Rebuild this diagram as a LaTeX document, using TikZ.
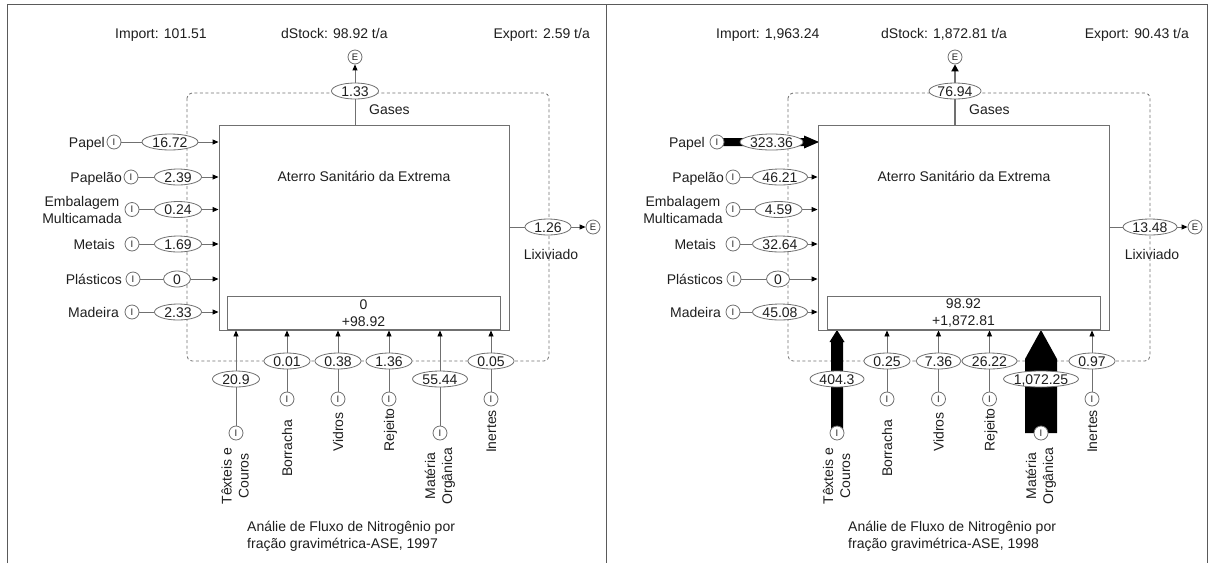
\documentclass[tikz,border=0pt]{standalone}
\usepackage{fontspec}
\setmainfont{Liberation Sans}
\usetikzlibrary{shapes.geometric,arrows.meta}
\definecolor{ln}{HTML}{707070}
\definecolor{tx}{HTML}{1E1E1E}
\definecolor{fr}{HTML}{5A5A5A}
\newcommand\tf{\fontsize{14}{17}\selectfont}
% \val{name}{position}{text}{ellipse width}
\newcommand\val[4]{\node[valnode,minimum width=#4pt] (#1) at (#2) {#3};}
\pgfdeclarelayer{bg}
\pgfsetlayers{bg,main}
\begin{document}
\begin{tikzpicture}[x=1pt,y=-1pt,font=\tf,text=tx,
 valnode/.style={ellipse,draw=ln,fill=white,line width=0.8pt,inner xsep=-8pt,inner ysep=0pt,minimum height=16pt,text height=10pt,text depth=0pt},
 io/.style={circle,draw=ln,fill=white,line width=0.8pt,minimum size=14pt,inner sep=0pt,font=\fontsize{9.5}{10}\selectfont},
 flow/.style={draw=ln,line width=0.9pt},
 arr/.style={flow,-{Triangle[length=6pt,width=5pt,color=black]}},
 bound/.style={draw=ln,line width=0.8pt,dash pattern=on 3pt off 2.5pt,rounded corners=5pt},
 procbox/.style={draw=ln,line width=0.9pt,inner sep=0pt},
 sl/.style={inner sep=0pt,text height=10pt,text depth=0pt},
 ml/.style={inner sep=0pt,align=center},
 big/.style={fill=black},
]
\useasboundingbox (0,0) rectangle (1210,563);
\draw[fr,line width=1pt] (7,563) -- (7,4) -- (1207,4) -- (1207,563);
\draw[fr,line width=1pt] (606,4) -- (606,563);

% ================= panel 1 =================
\begin{scope}
\node[sl,anchor=west] (imp1) at (115,33) {Import: 101.51};
\node[sl,anchor=west] (dst1) at (281,33) {dStock: 98.92 t/a};
\node[sl,anchor=east] (exp1) at (590,33) {Export: 2.59 t/a};
\begin{pgfonlayer}{bg}\draw[bound] (187,93) rectangle (549,361);\end{pgfonlayer}
\node[procbox,minimum width=290pt,minimum height=205pt] (proc1) at (364,227.5) {};
\node[sl] (ttl1) at (364,176) {Aterro Sanitário da Extrema};
\node[procbox,minimum width=273pt,minimum height=33pt,anchor=south] (stk1) at (363.5,330) {};
\node[ml] (stt1) at (363.5,313) {0\\+98.92};
% gases
\node[io] (eG1) at (355,57) {E};
\val{vG1}{355,91}{1.33}{47}
\node[sl,anchor=west] (gas1) at (369,109) {Gases};
\draw[flow] (proc1.north -| vG1) -- (vG1);
\draw[arr] (vG1) -- (eG1);
% left inputs
\node[io] (iPa1) at (114,142) {I};
\node[sl,anchor=east] (lPa1) at (105,142) {Papel};
\val{vPa1}{170,142}{16.72}{56}
\draw[flow] (iPa1) -- (vPa1);
\draw[arr] (vPa1) -- (vPa1 -| proc1.west);
\node[io] (iPp1) at (131,177) {I};
\node[sl,anchor=east] (lPp1) at (122,177) {Papelão};
\val{vPp1}{178,177}{2.39}{47}
\draw[flow] (iPp1) -- (vPp1);
\draw[arr] (vPp1) -- (vPp1 -| proc1.west);
\node[io] (iEm1) at (132,209.5) {I};
\node[ml] (lEm1) at (82,209.5) {Embalagem\\Multicamada};
\val{vEm1}{178,209.5}{0.24}{47}
\draw[flow] (iEm1) -- (vEm1);
\draw[arr] (vEm1) -- (vEm1 -| proc1.west);
\node[io] (iMe1) at (132,244) {I};
\node[sl,anchor=east] (lMe1) at (115,244) {Metais};
\val{vMe1}{178,244}{1.69}{47}
\draw[flow] (iMe1) -- (vMe1);
\draw[arr] (vMe1) -- (vMe1 -| proc1.west);
\node[io] (iPl1) at (133,279) {I};
\node[sl,anchor=east] (lPl1) at (122,279) {Plásticos};
\val{vPl1}{177,279}{0}{27}
\draw[flow] (iPl1) -- (vPl1);
\draw[arr] (vPl1) -- (vPl1 -| proc1.west);
\node[io] (iMa1) at (132,312) {I};
\node[sl,anchor=east] (lMa1) at (119,312) {Madeira};
\val{vMa1}{178,312}{2.33}{47}
\draw[flow] (iMa1) -- (vMa1);
\draw[arr] (vMa1) -- (vMa1 -| proc1.west);
% bottom inputs
\node[io] (iTe1) at (236,433) {I};
\val{vTe1}{236,379}{20.9}{47}
\node[ml,rotate=90] (lTe1) at (235,476) {Têxteis e\\Couros};
\draw[flow] (iTe1) -- (vTe1);
\draw[arr] (vTe1) -- (vTe1 |- proc1.south);
\node[io] (iBo1) at (287,399) {I};
\val{vBo1}{287,361}{0.01}{46}
\node[sl,rotate=90] (lBo1) at (287,448.5) {Borracha};
\draw[flow] (iBo1) -- (vBo1);
\draw[arr] (vBo1) -- (vBo1 |- proc1.south);
\node[io] (iVi1) at (338,399) {I};
\val{vVi1}{338,361}{0.38}{46}
\node[sl,rotate=90] (lVi1) at (338,432) {Vidros};
\draw[flow] (iVi1) -- (vVi1);
\draw[arr] (vVi1) -- (vVi1 |- proc1.south);
\node[io] (iRe1) at (389,399) {I};
\val{vRe1}{389,361}{1.36}{46}
\node[sl,rotate=90] (lRe1) at (389,430) {Rejeito};
\draw[flow] (iRe1) -- (vRe1);
\draw[arr] (vRe1) -- (vRe1 |- proc1.south);
\node[io] (iMo1) at (440,433) {I};
\val{vMo1}{440,379}{55.44}{55}
\node[ml,rotate=90] (lMo1) at (440,476) {Matéria\\Orgânica};
\draw[flow] (iMo1) -- (vMo1);
\draw[arr] (vMo1) -- (vMo1 |- proc1.south);
\node[io] (iIn1) at (491,399) {I};
\val{vIn1}{491,361}{0.05}{46}
\node[sl,rotate=90] (lIn1) at (491,431.5) {Inertes};
\draw[flow] (iIn1) -- (vIn1);
\draw[arr] (vIn1) -- (vIn1 |- proc1.south);
% lixiviado
\val{vLx1}{548,227}{1.26}{46}
\node[io] (eLx1) at (593,227) {E};
\node[sl] (lLx1) at (551,254) {Lixiviado};
\draw[flow] (vLx1 -| proc1.east) -- (vLx1);
\draw[arr] (vLx1) -- (eLx1);
% caption
\node[inner sep=0pt,align=left,anchor=west] (cap1) at (247,536) {Análie de Fluxo de Nitrogênio por\\fração gravimétrica-ASE, 1997};
\end{scope}

% ================= panel 2 =================
\begin{scope}[xshift=600pt]
\node[sl,anchor=west] (imp2) at (116,33) {Import: 1,963.24};
\node[sl,anchor=west] (dst2) at (281,33) {dStock: 1,872.81 t/a};
\node[sl,anchor=east] (exp2) at (589,33) {Export: 90.43 t/a};
\begin{pgfonlayer}{bg}\draw[bound] (188,93) rectangle (550,361);\end{pgfonlayer}
\node[procbox,minimum width=291pt,minimum height=205pt] (proc2) at (363.5,227.5) {};
\node[sl] (ttl2) at (364,176) {Aterro Sanitário da Extrema};
\node[procbox,minimum width=273pt,minimum height=33pt,anchor=south] (stk2) at (363.5,330) {};
\node[ml] (stt2) at (363.5,313) {98.92\\+1,872.81};
% gases
\node[io] (eG2) at (355,57) {E};
\val{vG2}{355,91}{76.94}{52}
\node[sl,anchor=west] (gas2) at (369,109) {Gases};
\draw[flow,line width=2pt] (proc2.north -| vG2) -- (vG2);
\draw[flow,line width=2pt,-{Triangle[length=7pt,width=7pt,color=black]}] (vG2) -- (eG2);
% left inputs
\node[io] (iPa2) at (117,142) {I};
\node[sl,anchor=east] (lPa2) at (105,142) {Papel};
\begin{pgfonlayer}{bg}
\fill[big] (117,138) -- (204,138) -- (204,135.5) -- (219,142) -- (204,148.5) -- (204,146) -- (117,146) -- cycle;
\end{pgfonlayer}
\val{vPa2}{171.5,142}{323.36}{63}
\node[io] (iPp2) at (133,177) {I};
\node[sl,anchor=east] (lPp2) at (124,177) {Papelão};
\val{vPp2}{180,177}{46.21}{55}
\draw[flow] (iPp2) -- (vPp2);
\draw[arr] (vPp2) -- (vPp2 -| proc2.west);
\node[io] (iEm2) at (133,209.5) {I};
\node[ml] (lEm2) at (83,209.5) {Embalagem\\Multicamada};
\val{vEm2}{178.5,209.5}{4.59}{47}
\draw[flow] (iEm2) -- (vEm2);
\draw[arr] (vEm2) -- (vEm2 -| proc2.west);
\node[io] (iMe2) at (133,244) {I};
\node[sl,anchor=east] (lMe2) at (116,244) {Metais};
\val{vMe2}{180,244}{32.64}{55}
\draw[flow] (iMe2) -- (vMe2);
\draw[arr] (vMe2) -- (vMe2 -| proc2.west);
\node[io] (iPl2) at (134,279) {I};
\node[sl,anchor=east] (lPl2) at (123,279) {Plásticos};
\val{vPl2}{178,279}{0}{23}
\draw[flow] (iPl2) -- (vPl2);
\draw[arr] (vPl2) -- (vPl2 -| proc2.west);
\node[io] (iMa2) at (133,312) {I};
\node[sl,anchor=east] (lMa2) at (121,312) {Madeira};
\val{vMa2}{180,312}{45.08}{55}
\draw[flow] (iMa2) -- (vMa2);
\draw[arr] (vMa2) -- (vMa2 -| proc2.west);
% bottom inputs
\begin{pgfonlayer}{bg}
\fill[big] (231,433) -- (231,342) -- (229.5,342) -- (237,330) -- (244.5,342) -- (243,342) -- (243,433) -- cycle;
\fill[big] (425,433) -- (425,359) -- (441,330) -- (457,359) -- (457,433) -- cycle;
\end{pgfonlayer}
\node[io] (iTe2) at (237,433) {I};
\val{vTe2}{237,379}{404.3}{54}
\node[ml,rotate=90] (lTe2) at (236.5,476) {Têxteis e\\Couros};
\node[io] (iBo2) at (287,399) {I};
\val{vBo2}{287,361}{0.25}{46}
\node[sl,rotate=90] (lBo2) at (287,448.5) {Borracha};
\draw[flow] (iBo2) -- (vBo2);
\draw[arr] (vBo2) -- (vBo2 |- proc2.south);
\node[io] (iVi2) at (338.5,399) {I};
\val{vVi2}{338.5,361}{7.36}{45}
\node[sl,rotate=90] (lVi2) at (338.5,432) {Vidros};
\draw[flow] (iVi2) -- (vVi2);
\draw[arr] (vVi2) -- (vVi2 |- proc2.south);
\node[io] (iRe2) at (389.5,399) {I};
\val{vRe2}{389.5,361}{26.22}{55}
\node[sl,rotate=90] (lRe2) at (389.5,430) {Rejeito};
\draw[flow] (iRe2) -- (vRe2);
\draw[arr] (vRe2) -- (vRe2 |- proc2.south);
\node[io] (iMo2) at (441,433) {I};
\val{vMo2}{441,379}{1,072.25}{75}
\node[ml,rotate=90] (lMo2) at (441,476) {Matéria\\Orgânica};
\node[io] (iIn2) at (492,399) {I};
\val{vIn2}{492,361}{0.97}{46}
\node[sl,rotate=90] (lIn2) at (492,431.5) {Inertes};
\draw[flow] (iIn2) -- (vIn2);
\draw[arr] (vIn2) -- (vIn2 |- proc2.south);
% lixiviado
\val{vLx2}{550,227}{13.48}{54}
\node[io] (eLx2) at (595,227) {E};
\node[sl] (lLx2) at (552,254) {Lixiviado};
\draw[flow] (vLx2 -| proc2.east) -- (vLx2);
\draw[arr] (vLx2) -- (eLx2);
% caption
\node[inner sep=0pt,align=left,anchor=west] (cap2) at (248,536) {Análie de Fluxo de Nitrogênio por\\fração gravimétrica-ASE, 1998};
\end{scope}
\end{tikzpicture}
\end{document}
